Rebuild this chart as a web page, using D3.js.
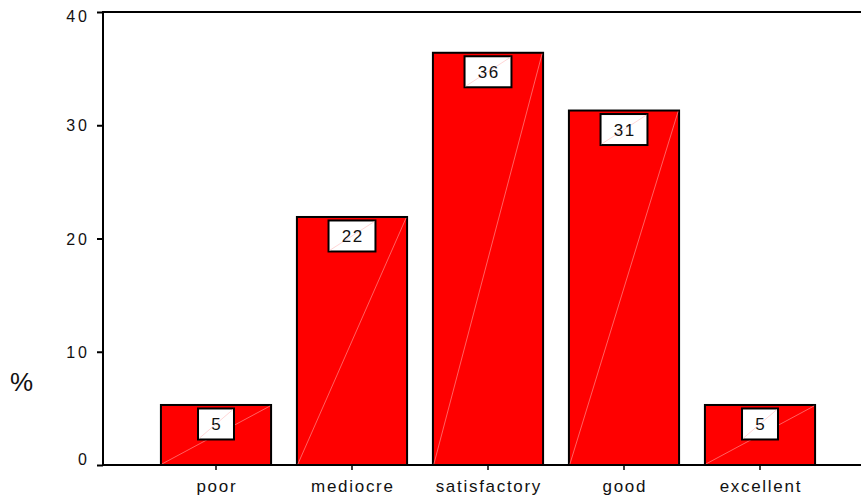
<!DOCTYPE html>
<html>
<head>
<meta charset="utf-8">
<script src="https://cdn.jsdelivr.net/npm/d3@7"></script>
<style>
  html, body { margin: 0; padding: 0; background: #fff; }
  svg { display: block; }
  text { font-family: "Liberation Sans", Arial, Helvetica, sans-serif; fill: #111; }
</style>
</head>
<body>
<svg id="chart" width="861" height="501"></svg>
<script>
// Rating categories and the share of answers (%) for each
const categories = ["poor", "mediocre", "satisfactory", "good", "excellent"];
const percentValues = [5.3, 21.9, 36.4, 31.3, 5.3];
const yTicks = [0, 10, 20, 30, 40];
const yLabel = "%";

const W = 861, H = 501;
const plot = { left: 103, right: 861, top: 12, bottom: 465 };

const svg = d3.select("#chart");

const y = d3.scaleLinear().domain([0, 40]).range([plot.bottom, plot.top]);
const x = d3.scaleBand()
  .domain(categories)
  .range([148, 828])
  .paddingInner(0.19)
  .paddingOuter(0.095);

const data = categories.map((c, i) => ({ cat: c, value: percentValues[i] }));
const fmt = d3.format(".0f");

// Bars
const bars = svg.append("g").attr("class", "bars");
bars.selectAll("rect")
  .data(data)
  .join("rect")
  .attr("x", d => x(d.cat))
  .attr("y", d => y(d.value))
  .attr("width", x.bandwidth())
  .attr("height", d => y(0) - y(d.value))
  .attr("fill", "#ff0000")
  .attr("stroke", "#000")
  .attr("stroke-width", 2);

// Faint diagonal hatch across each bar
bars.selectAll("line")
  .data(data)
  .join("line")
  .attr("x1", d => x(d.cat) + 1)
  .attr("y1", y(0) - 1)
  .attr("x2", d => x(d.cat) + x.bandwidth() - 1)
  .attr("y2", d => y(d.value) + 1)
  .attr("stroke", "#ff8a8a")
  .attr("stroke-width", 0.7);

// Axes
const yAxis = d3.axisLeft(y).tickValues(yTicks).tickSize(6).tickSizeOuter(0).tickPadding(9);
const gy = svg.append("g").attr("transform", `translate(${plot.left},0)`).call(yAxis);
gy.select(".domain").remove();
gy.selectAll(".tick line").attr("stroke", "#000").attr("stroke-width", 2);
gy.selectAll(".tick text")
  .style("font-size", "16px")
  .style("letter-spacing", "3px")
  .style("font-family", "'Liberation Sans', Arial, sans-serif")
  .attr("x", -13)
  .attr("dy", null)
  .attr("y", d => d === 40 ? 9 : d === 0 ? -1 : 5.5)
  .attr("fill", "#111");

const xAxis = d3.axisBottom(x).tickSize(5).tickSizeOuter(0).tickPadding(14);
const gx = svg.append("g").attr("transform", `translate(0,${plot.bottom})`).call(xAxis);
gx.select(".domain").remove();
gx.selectAll(".tick line").attr("stroke", "#000").attr("stroke-width", 1.5);
gx.selectAll(".tick text")
  .style("font-size", "17px")
  .style("letter-spacing", "1.7px")
  .style("font-family", "'Liberation Sans', Arial, sans-serif")
  .attr("dx", 0.85)
  .attr("dy", null)
  .attr("y", 27)
  .attr("fill", "#111");

// Frame lines: left axis, baseline and top rule
const frame = svg.append("g").attr("stroke", "#000").attr("stroke-width", 2);
frame.append("line").attr("x1", plot.left).attr("x2", plot.left).attr("y1", plot.top - 1).attr("y2", plot.bottom + 1);
frame.append("line").attr("x1", plot.left).attr("x2", plot.right).attr("y1", plot.bottom).attr("y2", plot.bottom);
frame.append("line").attr("x1", plot.left).attr("x2", plot.right).attr("y1", plot.top).attr("y2", plot.top);

// Value boxes inside the top of each bar
const labels = svg.append("g").attr("class", "value-labels");
data.forEach(d => {
  const g = labels.append("g");
  const cx = x(d.cat) + x.bandwidth() / 2;
  const top = y(d.value) + 3.5;
  const t = g.append("text")
    .style("font-size", "17px")
    .style("letter-spacing", "1.5px")
    .attr("text-anchor", "middle")
    .text(fmt(d.value));
  const tw = t.node().getComputedTextLength();
  const bw = tw + 25, bh = 31;
  g.insert("rect", "text")
    .attr("x", cx - bw / 2)
    .attr("y", top)
    .attr("width", bw)
    .attr("height", bh)
    .attr("fill", "#fff")
    .attr("stroke", "#000")
    .attr("stroke-width", 2);
  g.insert("line", "text")
    .attr("x1", cx - bw / 2 + 1).attr("y1", top + bh - 1)
    .attr("x2", cx + bw / 2 - 1).attr("y2", top + 1)
    .attr("stroke", "#ffc4c4").attr("stroke-width", 0.7);
  t.attr("x", cx + 0.75).attr("y", top + bh / 2 + 6);
});

// Y axis title
svg.append("text")
  .attr("x", 10)
  .attr("y", 391)
  .style("font-size", "26px")
  .text(yLabel);
</script>
</body>
</html>
